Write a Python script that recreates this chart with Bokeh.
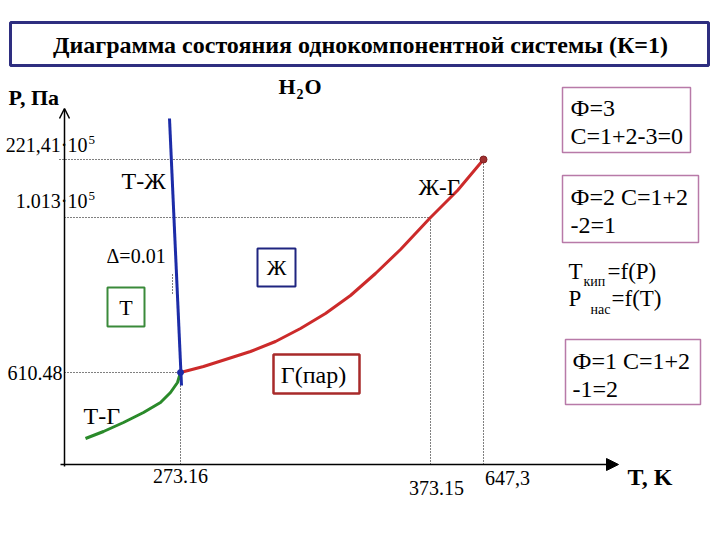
from bokeh.plotting import figure
from bokeh.models import Range1d, Arrow, OpenHead, NormalHead
from bokeh.core.properties import value
from bokeh.embed import file_html
from bokeh.resources import INLINE

# ---- schematic data (diagram units, origin at axis crossing) ----
# sublimation curve (Т-Г)
T_TG = [21, 39, 59, 79, 96, 106, 113, 116]
P_TG = [26, 33, 42, 52, 62, 72, 82, 92]
# vaporisation curve (Ж-Г)
T_LG = [116, 139, 161, 186, 211, 236, 261, 286, 311, 336, 366, 393, 419]
P_LG = [92, 98, 105, 113, 123, 136, 151, 169, 191, 215, 247, 274, 305]
# melting line (Т-Ж)
T_TL = [105, 117]
P_TL = [346, 79]
# key points
TRIPLE = (116, 92)       # 273.16 K, 610.48 Pa
BOIL = (366, 247)        # 373.15 K, 1.013e5 Pa
CRIT = (419, 305)        # 647.3 K, 221.41e5 Pa
DELTA_T = 108
DELTA_P = [171, 190]

X_TICK_LABELS = ["273.16", "373.15", "647,3"]
Y_TICK_LABELS = ["610.48", "1.013·10", "221,41·10"]

TITLE = "Диаграмма состояния однокомпонентной системы (К=1)"

SERIF = "'Liberation Serif', 'Times New Roman', serif"

p = figure(width=720, height=540, x_range=Range1d(-64, 656), y_range=Range1d(-76, 464),
           x_axis_location=None, y_axis_location=None, toolbar_location=None,
           output_backend="svg", min_border=0, outline_line_color=None)
p.grid.visible = False
p.background_fill_color = "white"


def txt(x, y, s, size, align="left", baseline="middle", bold=False, color="black"):
    p.text(x=[x], y=[y], text=[s], text_font=value(SERIF), text_font_size=value(f"{size}px"),
           text_align=align, text_baseline=baseline, text_color=color,
           text_font_style="bold" if bold else "normal")


# title box
p.quad(left=[-54], right=[644], bottom=[399], top=[442], fill_color="white",
       line_color="#2e2e80", line_width=3)
txt(296, 420, TITLE, 24, align="center", bold=True)

# axes with arrows
p.add_layout(Arrow(end=OpenHead(size=10, line_width=1.5), x_start=0, y_start=-2, x_end=0, y_end=356,
                   line_width=1.5, line_color="black"))
p.add_layout(Arrow(end=NormalHead(size=12, fill_color="black", line_color="black"),
                   x_start=-4, y_start=0, x_end=554, y_end=0, line_width=1.5, line_color="black"))

# dotted guide lines
dot = dict(line_color="black", line_width=1, line_dash="1 2")
p.line([-5, CRIT[0]], [CRIT[1], CRIT[1]], **dot)
p.line([0, BOIL[0]], [BOIL[1], BOIL[1]], **dot)
p.line([0, TRIPLE[0]], [TRIPLE[1], TRIPLE[1]], **dot)
p.line([TRIPLE[0], TRIPLE[0]], [0, TRIPLE[1]], **dot)
p.line([BOIL[0], BOIL[0]], [0, BOIL[1]], **dot)
p.line([CRIT[0], CRIT[0]], [0, CRIT[1]], **dot)
p.line([DELTA_T, DELTA_T], DELTA_P, **dot)

# curves
p.line(T_TG, P_TG, line_color="#2a8a2a", line_width=3, line_join="round")
p.line(T_LG, P_LG, line_color="#cc2a2a", line_width=3, line_join="round")
p.line(T_TL, P_TL, line_color="#1c2ca8", line_width=3)
p.scatter([TRIPLE[0]], [TRIPLE[1]], size=6, fill_color="#1c2ca8", line_color="#1c2ca8")
p.scatter([CRIT[0]], [CRIT[1]], size=7, fill_color="#a03030", line_color="#802020")

# axis titles
txt(-56, 367, "P, Па", 22, bold=True)
txt(563, -12, "T, K", 24, bold=True)
txt(214, 378, "H", 22, bold=True)
txt(232, 371, "2", 14, bold=True)
txt(240, 378, "O", 22, bold=True)

# tick labels
txt(TRIPLE[0], -11, X_TICK_LABELS[0], 20, align="center")
txt(BOIL[0] + 6, -23, X_TICK_LABELS[1], 20, align="center")
txt(CRIT[0] + 24, -13, X_TICK_LABELS[2], 20, align="center")
txt(-2, TRIPLE[1], Y_TICK_LABELS[0], 20, align="right")
txt(23, BOIL[1] + 17, Y_TICK_LABELS[1], 20, align="right")
txt(24, BOIL[1] + 22, "5", 13)
txt(23, CRIT[1] + 15, Y_TICK_LABELS[2], 20, align="right")
txt(24, CRIT[1] + 20, "5", 13)

# region / curve labels
txt(57, 284, "Т-Ж", 24)
txt(42, 209, "Δ=0.01", 20)
txt(19, 49, "Т-Г", 24)
txt(354, 277, "Ж-Г", 23)

p.quad(left=[43], right=[80], bottom=[138], top=[177], fill_color="white", line_color="#3a8a3a", line_width=2)
txt(61.5, 157, "Т", 22, align="center")
p.quad(left=[193], right=[231], bottom=[178], top=[216], fill_color="white", line_color="#1f2580", line_width=2)
txt(212, 197, "Ж", 22, align="center")
p.quad(left=[209], right=[295], bottom=[71], top=[110], fill_color="white", line_color="#a82a2a", line_width=2.5)
txt(249, 90, "Г(пар)", 24, align="center")

# right side notes
box = dict(fill_color="white", line_color="#b87aa8", line_width=1.5)
p.quad(left=[498], right=[626], bottom=[312], top=[377], **box)
txt(506, 357, "Ф=3", 24)
txt(506, 329, "С=1+2-3=0", 24)
p.quad(left=[498], right=[634], bottom=[222], top=[289], **box)
txt(506, 268, "Ф=2 С=1+2", 24)
txt(506, 240, "-2=1", 24)
txt(504, 193, "T", 23)
txt(519, 183, "кип", 14)
txt(543, 193, "=f(P)", 23)
txt(504, 166, "P", 23)
txt(526, 155, "нас", 14)
txt(547, 166, "=f(T)", 23)
p.quad(left=[501], right=[636], bottom=[60], top=[125], **box)
txt(508, 104, "Ф=1 С=1+2", 24)
txt(508, 76, "-1=2", 24)

open("out.html", "w").write(file_html(p, INLINE))
